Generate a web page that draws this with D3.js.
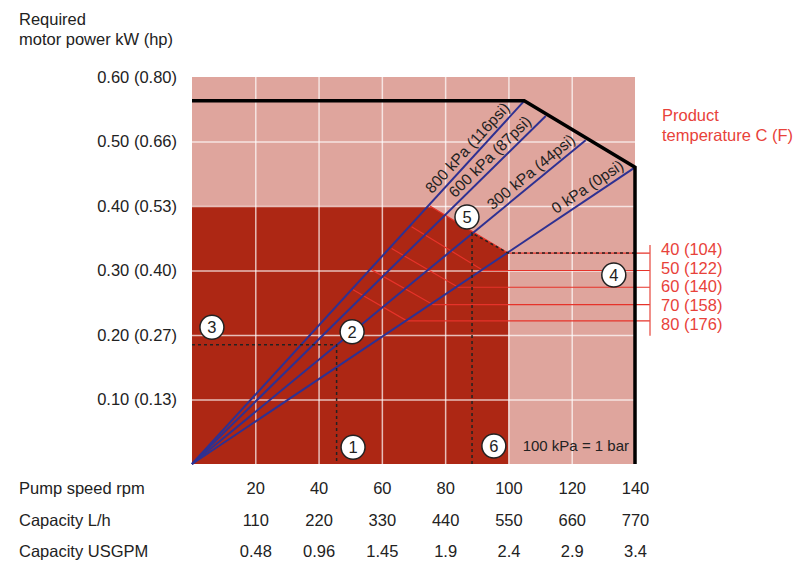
<!DOCTYPE html>
<html>
<head>
<meta charset="utf-8">
<script src="https://cdn.jsdelivr.net/npm/d3@7"></script>
<style>
  body { margin: 0; background: #fff; }
  svg { display: block; font-family: "Liberation Sans", Arial, Helvetica, sans-serif; }
  .axis path, .axis line { display: none; }
</style>
</head>
<body>
<div class="viz"></div>
<script>
// pump speed and the matching capacity rows
const rpmTicks = [20, 40, 60, 80, 100, 120, 140];
const litreTicks = ['110', '220', '330', '440', '550', '660', '770'];
const usgpmTicks = ['0.48', '0.96', '1.45', '1.9', '2.4', '2.9', '3.4'];

// required motor power, kW with hp in brackets
const powerTicks = [0.1, 0.2, 0.3, 0.4, 0.5, 0.6];
const hpTicks = ['0.13', '0.27', '0.40', '0.53', '0.66', '0.80'];

// pressure lines start at the origin and end on the limit line [rpm, kW]
const pressureLabels = ['800 kPa (116psi)', '600 kPa (87psi)', '300 kPa (44psi)', '0 kPa (0psi)'];
const pressureEnds = [[105, 0.563], [111.8, 0.5395], [124.4, 0.502], [140, 0.46]];

// limit of the pump (black outline)
const limitRpm = [0, 105, 140, 140];
const limitPower = [0.563, 0.563, 0.46, 0];

// product temperature lines: from the 800 kPa line to the 0 kPa line
const tempLabels = ['40 (104)', '50 (122)', '60 (140)', '70 (158)', '80 (176)'];
const tempStart = [[75.2, 0.400], [69.4, 0.368], [63.1, 0.334], [56.8, 0.301], [50.9, 0.270]];
const tempEnd = [[99.9, 0.327], [92.0, 0.300], [84.1, 0.274], [76.2, 0.247], [67.9, 0.222]];

// the darker working area
const workArea = [[0, 0], [0, 0.4], [75.2, 0.4], [99.9, 0.327], [100, 0]];

// example reading paths (dotted)
const exampleA = [[0, 0.185], [45.7, 0.185], [45.7, 0]];
const exampleB = [[88.5, 0], [88.5, 0.358], [99.9, 0.327], [140, 0.327]];

// numbered markers [rpm, kW]
const markerNames = ['1', '2', '3', '4', '5', '6'];
const markerPos = [[50.9, 0.026], [50.6, 0.205], [6.3, 0.212], [133.3, 0.293], [86.9, 0.383], [95.4, 0.028]];

const W = 805;
const H = 565;
const textColor = '#222';
const redText = '#e8423a';
const fontSize = '16.5px';

const svg = d3.select('.viz')
  .append('svg')
  .attr('width', W)
  .attr('height', H);

const x = d3.scaleLinear().domain([0, 140]).range([192, 635]);
const y = d3.scaleLinear().domain([0, 0.6]).range([464, 77]);

// backgrounds
svg.append('rect')
  .attr('x', x(0))
  .attr('y', y(0.6))
  .attr('width', x(140) - x(0))
  .attr('height', y(0) - y(0.6))
  .attr('fill', '#dfa59d');

const line = d3.line().x(d => x(d[0])).y(d => y(d[1]));

svg.append('path')
  .attr('d', line(workArea) + 'Z')
  .attr('fill', '#ad2714');

// grid lines drawn with axes
svg.append('g')
  .attr('class', 'grid')
  .attr('transform', `translate(0 ${y(0)})`)
  .call(d3.axisBottom(x).tickValues(rpmTicks.slice(0, -1)).tickSize(-(y(0) - y(0.6))).tickFormat(''))
  .call(g => g.select('.domain').remove());

svg.append('g')
  .attr('class', 'grid')
  .attr('transform', `translate(${x(0)} 0)`)
  .call(d3.axisLeft(y).tickValues(powerTicks.slice(0, -1)).tickSize(-(x(140) - x(0))).tickFormat(''))
  .call(g => g.select('.domain').remove());

svg.selectAll('.grid line')
  .attr('stroke', '#fff')
  .attr('stroke-opacity', 0.7)
  .attr('stroke-width', 1.5);

// temperature lines, each continuing horizontally to the bracket
const bracketX = x(140) + 15;
tempLabels.forEach((t, i) => {
  svg.append('path')
    .attr('d', `M${x(tempStart[i][0])},${y(tempStart[i][1])}L${x(tempEnd[i][0])},${y(tempEnd[i][1])}H${bracketX}`)
    .attr('fill', 'none')
    .attr('stroke', '#e6332a')
    .attr('stroke-width', 1.2);
});

svg.append('line')
  .attr('x1', bracketX)
  .attr('x2', bracketX)
  .attr('y1', y(tempEnd[0][1]) - 8)
  .attr('y2', y(tempEnd[4][1]) + 15)
  .attr('stroke', '#e8534a')
  .attr('stroke-width', 1.3);

svg.selectAll('text.temp')
  .data(tempLabels)
  .enter()
  .append('text')
  .attr('class', 'temp')
  .attr('x', bracketX + 11)
  .attr('y', (d, i) => y(tempEnd[0][1]) - 4 + i * 18.75)
  .attr('dy', '0.35em')
  .attr('font-size', fontSize)
  .attr('fill', redText)
  .text(d => d);

svg.append('text')
  .attr('x', 662)
  .attr('y', 115)
  .attr('dy', '0.35em')
  .attr('font-size', fontSize)
  .attr('fill', redText)
  .text('Product');
svg.append('text')
  .attr('x', 662)
  .attr('y', 135)
  .attr('dy', '0.35em')
  .attr('font-size', fontSize)
  .attr('fill', redText)
  .text('temperature C (F)');

// pressure lines from the origin
// labels sit a little back from the line end, further on the steep lines near the corner
const labelBack = [15, 14, 8, 9];
pressureEnds.forEach((e, i) => {
  svg.append('line')
    .attr('x1', x(0))
    .attr('y1', y(0))
    .attr('x2', x(e[0]))
    .attr('y2', y(e[1]))
    .attr('stroke', '#2e3192')
    .attr('stroke-width', 2);

  const angle = Math.atan2(y(0) - y(e[1]), x(e[0]) - x(0)) * 180 / Math.PI;
  svg.append('text')
    .attr('transform', `translate(${x(e[0])} ${y(e[1])}) rotate(${-angle})`)
    .attr('x', -labelBack[i])
    .attr('y', -5)
    .attr('text-anchor', 'end')
    .attr('font-size', '15.5px')
    .attr('fill', textColor)
    .text(pressureLabels[i]);
});

// dotted reading paths
[exampleA, exampleB].forEach(p => {
  svg.append('path')
    .attr('d', line(p))
    .attr('fill', 'none')
    .attr('stroke', '#222')
    .attr('stroke-width', 1.5)
    .attr('stroke-dasharray', '3 3');
});

// outline of the pump limit
svg.append('path')
  .attr('d', line(limitRpm.map((r, i) => [r, limitPower[i]])))
  .attr('fill', 'none')
  .attr('stroke', '#000')
  .attr('stroke-width', 3.5)
  .attr('stroke-linejoin', 'miter');

svg.append('text')
  .attr('x', x(140) - 6)
  .attr('y', y(0.028))
  .attr('dy', '0.35em')
  .attr('text-anchor', 'end')
  .attr('font-size', '15px')
  .attr('fill', textColor)
  .text('100 kPa = 1 bar');

// numbered markers
const markers = svg.selectAll('g.marker')
  .data(markerNames)
  .enter()
  .append('g')
  .attr('class', 'marker')
  .attr('transform', (d, i) => `translate(${x(markerPos[i][0])} ${y(markerPos[i][1])})`);

markers.append('circle')
  .attr('r', 12)
  .attr('fill', '#fff')
  .attr('stroke', '#222')
  .attr('stroke-width', 1.5);

markers.append('text')
  .attr('text-anchor', 'middle')
  .attr('dy', '0.36em')
  .attr('font-size', fontSize)
  .attr('fill', textColor)
  .text(d => d);

// y axis: kW (hp)
svg.append('g')
  .attr('class', 'axis')
  .attr('transform', `translate(${x(0)} 0)`)
  .call(d3.axisLeft(y).tickValues(powerTicks).tickSize(0).tickPadding(15)
    .tickFormat((d, i) => `${d.toFixed(2)} (${hpTicks[i]})`));

svg.append('text')
  .attr('x', 19)
  .attr('y', 19)
  .attr('dy', '0.35em')
  .attr('font-size', fontSize)
  .attr('fill', textColor)
  .text('Required');
svg.append('text')
  .attr('x', 19)
  .attr('y', 39)
  .attr('dy', '0.35em')
  .attr('font-size', fontSize)
  .attr('fill', textColor)
  .text('motor power kW (hp)');

// bottom rows: rpm, L/h, USGPM
const rows = [
  { label: 'Pump speed rpm', y: 488, values: rpmTicks.map(String) },
  { label: 'Capacity L/h', y: 520, values: litreTicks },
  { label: 'Capacity USGPM', y: 551, values: usgpmTicks },
];

rows.forEach(row => {
  svg.append('g')
    .attr('class', 'axis')
    .attr('transform', `translate(0 ${row.y})`)
    .call(d3.axisBottom(x).tickValues(rpmTicks).tickSize(0).tickFormat((d, i) => row.values[i]))
    .call(g => g.selectAll('text').attr('y', 0).attr('dy', '0.35em'));

  svg.append('text')
    .attr('x', 19)
    .attr('y', row.y)
    .attr('dy', '0.35em')
    .attr('font-size', fontSize)
    .attr('fill', textColor)
    .text(row.label);
});

svg.selectAll('.axis text')
  .attr('font-size', fontSize)
  .attr('font-family', '"Liberation Sans", Arial, Helvetica, sans-serif')
  .attr('fill', textColor);
</script>
</body>
</html>
